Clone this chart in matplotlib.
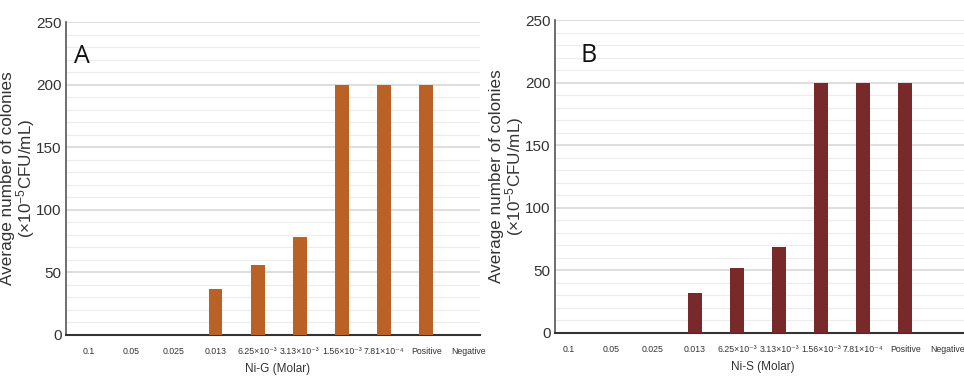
import numpy as np
import matplotlib
matplotlib.use("Agg")
import matplotlib.pyplot as plt
from matplotlib.ticker import MultipleLocator

# categories along x (same in both panels)
categories = ["0.1", "0.05", "0.025", "0.013",
              "6.25×10⁻³", "3.13×10⁻³", "1.56×10⁻³", "7.81×10⁻⁴",
              "Positive", "Negative"]

# average colonies (x10^-5 CFU/mL)
ni_g = [0, 0, 0, 37, 56, 78, 200, 200, 200, 0]
ni_s = [0, 0, 0, 32, 52, 69, 200, 200, 200, 0]

panels = ["A", "B"]
xlabels = ["Ni-G (Molar)", "Ni-S (Molar)"]
colors = ["#BA6126", "#772A29"]

sans = "Liberation Sans"
plt.rcParams["font.family"] = [sans, "DejaVu Sans"]
plt.rcParams["mathtext.fontset"] = "custom"
plt.rcParams["mathtext.rm"] = sans
plt.rcParams["mathtext.it"] = sans
plt.rcParams["mathtext.default"] = "regular"

fig = plt.figure(figsize=(9.64, 3.81), dpi=100)
ax_a = fig.add_axes([66 / 964, 1 - 335 / 381, (480 - 66) / 964, (335 - 22) / 381])
ax_b = fig.add_axes([555 / 964, 1 - 333 / 381, (964 - 555) / 964, (333 - 20) / 381])


def draw_panel(ax, values, color, letter, xlabel, xlim, lab_x, xlab_x, let_xy):
    x = np.arange(len(categories))
    ax.bar(x, values, width=0.33, color=color, zorder=3)
    ax.set_ylim(0, 250)
    ax.set_xlim(*xlim)
    ax.yaxis.set_major_locator(MultipleLocator(50))
    ax.yaxis.set_minor_locator(MultipleLocator(10))
    ax.grid(which="major", axis="y", color="#d8d8d8", lw=1.2, zorder=0)
    ax.grid(which="minor", axis="y", color="#ececec", lw=0.8, zorder=0)
    ax.tick_params(which="minor", length=0)
    ax.set_xticks(x)
    ax.set_xticklabels(categories, fontsize=6.3, color="#333333")
    ax.tick_params(axis="x", length=0, pad=9)
    ax.tick_params(axis="y", length=0, labelsize=11, colors="#333333", pad=3)
    for s in ["top", "right"]:
        ax.spines[s].set_visible(False)
    ax.spines["left"].set_color("#555555")
    ax.spines["left"].set_linewidth(1.2)
    ax.spines["bottom"].set_color("#333333")
    ax.spines["bottom"].set_linewidth(1.5)
    ax.set_xlabel(xlabel, fontsize=8.5, color="#333333")
    ax.xaxis.set_label_coords(xlab_x, -0.088)
    ax.set_ylabel("Average number of colonies\n(×10$^{-5}$CFU/mL)", fontsize=12.3,
                  color="#333333", linespacing=0.9)
    ax.yaxis.set_label_coords(lab_x, 0.5)
    ax.text(let_xy[0], let_xy[1], letter, transform=ax.transAxes, fontsize=18,
            family="Open Sans", color="#111111", va="center")


draw_panel(ax_a, ni_g, colors[0], panels[0], xlabels[0], (-0.545, 9.27), -0.071, 0.512, (0.02, 0.89))
draw_panel(ax_b, ni_s, colors[1], panels[1], xlabels[1], (-0.33, 9.4), -0.072, 0.509, (0.063, 0.885))

fig.savefig("out.png", dpi=100)
